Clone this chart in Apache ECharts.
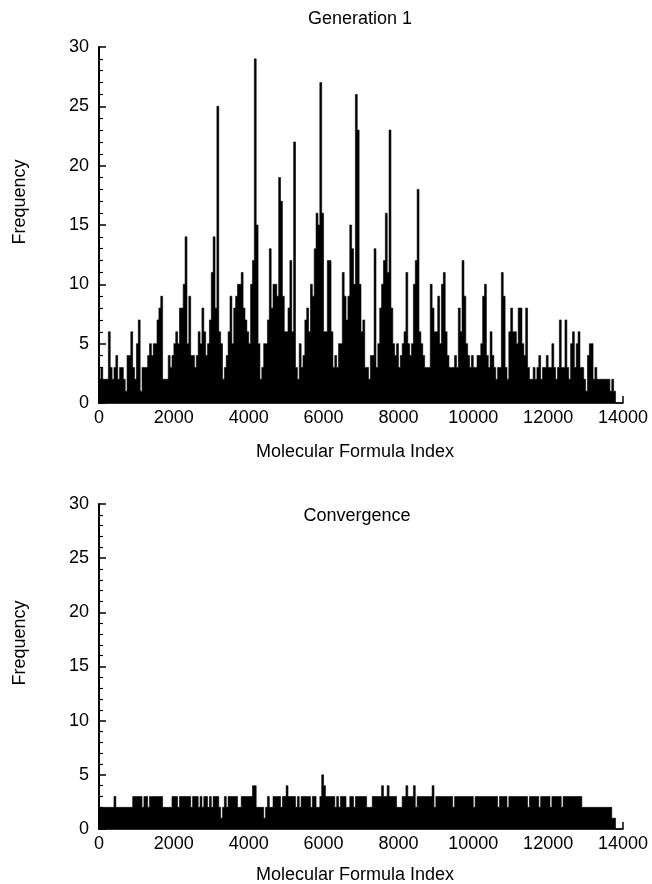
<!DOCTYPE html>
<html>
<head>
<meta charset="utf-8">
<title>Molecular formula frequency</title>
<script src="https://cdn.jsdelivr.net/npm/echarts@6/dist/echarts.min.js"></script>
<style>
  html, body { margin: 0; padding: 0; background: #fff; }
  #chart { width: 652px; height: 884px; }
</style>
</head>
<body>
<div id="chart"></div>
<script>
// bins of 50 formula indices, one row = 1000 indices
const binWidth = 50
const xTicks = [0, 2000, 4000, 6000, 8000, 10000, 12000, 14000]
const yTicks = [0, 5, 10, 15, 20, 25, 30]

const gen1Freq = [
  2, 3, 2, 2, 2, 6, 3, 2, 3, 4, 2, 3, 3, 2, 1, 4, 4, 6, 3, 2,
  5, 7, 1, 3, 3, 3, 4, 5, 4, 5, 5, 7, 8, 9, 2, 2, 2, 4, 3, 4,
  5, 6, 5, 8, 8, 10, 14, 5, 9, 4, 4, 3, 4, 6, 5, 8, 6, 4, 5, 7,
  11, 14, 8, 25, 6, 5, 2, 3, 4, 6, 9, 5, 8, 9, 10, 10, 11, 8, 7, 6,
  5, 10, 12, 29, 15, 5, 2, 3, 5, 5, 7, 13, 8, 10, 10, 9, 19, 17, 9, 6,
  6, 8, 12, 6, 22, 3, 2, 5, 3, 4, 7, 8, 6, 10, 9, 13, 16, 15, 27, 16,
  6, 6, 12, 12, 6, 3, 4, 3, 5, 5, 11, 9, 7, 9, 15, 13, 10, 26, 23, 10,
  6, 7, 3, 3, 2, 4, 4, 13, 3, 5, 8, 10, 12, 16, 11, 23, 8, 5, 4, 5,
  3, 4, 5, 6, 11, 5, 4, 5, 10, 12, 18, 6, 5, 4, 3, 3, 3, 10, 8, 6,
  6, 9, 5, 10, 11, 6, 4, 3, 3, 3, 4, 3, 8, 6, 12, 9, 5, 4, 3, 4,
  3, 3, 4, 4, 5, 9, 10, 4, 3, 6, 4, 3, 2, 3, 3, 11, 9, 3, 2, 6,
  8, 6, 6, 5, 8, 8, 5, 4, 8, 3, 2, 2, 3, 2, 3, 4, 2, 3, 3, 4,
  3, 3, 5, 3, 2, 3, 7, 3, 3, 7, 3, 2, 5, 6, 3, 5, 6, 3, 3, 2,
  1, 4, 5, 5, 2, 3, 2, 2, 2, 2, 2, 2, 2, 1, 2, 1, 0, 0, 0, 0
]

const convFreq = [
  2, 2, 2, 2, 2, 2, 2, 2, 3, 2, 2, 2, 2, 2, 2, 2, 2, 2, 3, 3,
  3, 3, 3, 2, 3, 3, 2, 3, 3, 3, 3, 3, 3, 3, 2, 2, 2, 2, 2, 3,
  3, 3, 2, 3, 3, 3, 3, 3, 3, 2, 3, 3, 3, 2, 3, 2, 3, 3, 2, 3,
  2, 3, 3, 3, 2, 1, 2, 3, 2, 3, 3, 3, 3, 3, 2, 2, 3, 3, 3, 3,
  3, 3, 4, 4, 2, 2, 2, 2, 1, 2, 3, 2, 2, 3, 3, 3, 3, 2, 3, 3,
  4, 3, 3, 3, 3, 2, 3, 2, 3, 3, 3, 3, 3, 2, 3, 3, 2, 2, 3, 5,
  4, 3, 3, 3, 3, 3, 2, 3, 2, 3, 3, 3, 2, 2, 3, 3, 2, 3, 3, 3,
  3, 3, 3, 2, 2, 2, 3, 3, 3, 3, 3, 4, 3, 3, 4, 3, 3, 3, 3, 2,
  2, 2, 3, 3, 4, 3, 3, 3, 4, 2, 3, 3, 3, 3, 3, 3, 3, 3, 4, 2,
  3, 3, 3, 3, 3, 3, 3, 3, 3, 2, 3, 3, 3, 3, 3, 3, 3, 3, 3, 3,
  2, 3, 3, 3, 3, 3, 3, 3, 3, 3, 3, 3, 3, 2, 3, 3, 3, 3, 2, 3,
  3, 3, 3, 3, 3, 3, 3, 3, 3, 2, 3, 3, 3, 3, 3, 2, 3, 3, 3, 3,
  3, 2, 3, 3, 3, 3, 3, 2, 3, 3, 3, 3, 3, 3, 3, 3, 3, 3, 2, 2,
  2, 2, 2, 2, 2, 2, 2, 2, 2, 2, 2, 2, 2, 2, 1, 1, 0, 0, 0, 0
]

const topTitle = 'Generation 1'
const bottomTitle = 'Convergence'
const xName = 'Molecular Formula Index'
const yName = 'Frequency'

const FONT = '"Liberation Sans", Arial, Helvetica, sans-serif'

function xAxisFor(gridIndex) {
  return {
    gridIndex,
    type: 'value',
    min: xTicks[0],
    max: xTicks[xTicks.length - 1],
    interval: xTicks[1] - xTicks[0],
    axisLine: { show: true, onZero: false, lineStyle: { color: '#000', width: 1.5 } },
    axisTick: { show: true, inside: true, length: 7, lineStyle: { color: '#000', width: 1.5 } },
    axisLabel: { color: '#000', fontSize: 18, fontFamily: FONT, margin: 6, formatter: v => String(v) },
    splitLine: { show: false }
  }
}

function yAxisFor(gridIndex) {
  return {
    gridIndex,
    type: 'value',
    min: yTicks[0],
    max: yTicks[yTicks.length - 1],
    interval: yTicks[1] - yTicks[0],
    axisLine: { show: true, lineStyle: { color: '#000', width: 2 } },
    axisTick: { show: true, inside: true, length: 7, lineStyle: { color: '#000', width: 1.5 } },
    minorTick: { show: true, splitNumber: 5, length: 4, lineStyle: { color: '#000', width: 1.2 } },
    axisLabel: { color: '#000', fontSize: 18, fontFamily: FONT, margin: 10 },
    splitLine: { show: false }
  }
}

// whole histogram outline as one step polygon, so the bins join without seams
function stepRenderer(values) {
  return function (params, api) {
    if (params.dataIndex !== 0) return null
    const pts = [api.coord([0, 0])]
    values.forEach((v, i) => {
      pts.push(api.coord([i * binWidth, v]))
      pts.push(api.coord([(i + 1) * binWidth, v]))
    })
    pts.push(api.coord([values.length * binWidth, 0]))
    return {
      type: 'polygon',
      shape: { points: pts },
      style: { fill: '#000', stroke: '#000', lineWidth: 0.6 }
    }
  }
}

function histSeries(values, idx) {
  return {
    type: 'custom',
    xAxisIndex: idx,
    yAxisIndex: idx,
    renderItem: stepRenderer(values),
    encode: { x: 0, y: 1 },
    data: values.map((v, i) => [i * binWidth, v])
  }
}

function label(text, x, y, rotate) {
  return {
    type: 'text',
    x, y,
    rotation: rotate ? Math.PI / 2 : 0,
    style: {
      text,
      fill: '#000',
      font: '18px ' + FONT,
      textAlign: 'center',
      textVerticalAlign: 'middle'
    }
  }
}

const chart = echarts.init(document.getElementById('chart'))
chart.setOption({
  animation: false,
  backgroundColor: '#fff',
  grid: [
    { left: 99, top: 47, width: 524, height: 356 },
    { left: 99, top: 504, width: 524, height: 325 }
  ],
  xAxis: [xAxisFor(0), xAxisFor(1)],
  yAxis: [yAxisFor(0), yAxisFor(1)],
  series: [histSeries(gen1Freq, 0), histSeries(convFreq, 1)],
  graphic: [
    label(topTitle, 360, 19),
    label(xName, 355, 452),
    label(yName, 20, 202, true),
    label(bottomTitle, 357, 516),
    label(xName, 355, 875),
    label(yName, 20, 643, true)
  ]
})
</script>
</body>
</html>
